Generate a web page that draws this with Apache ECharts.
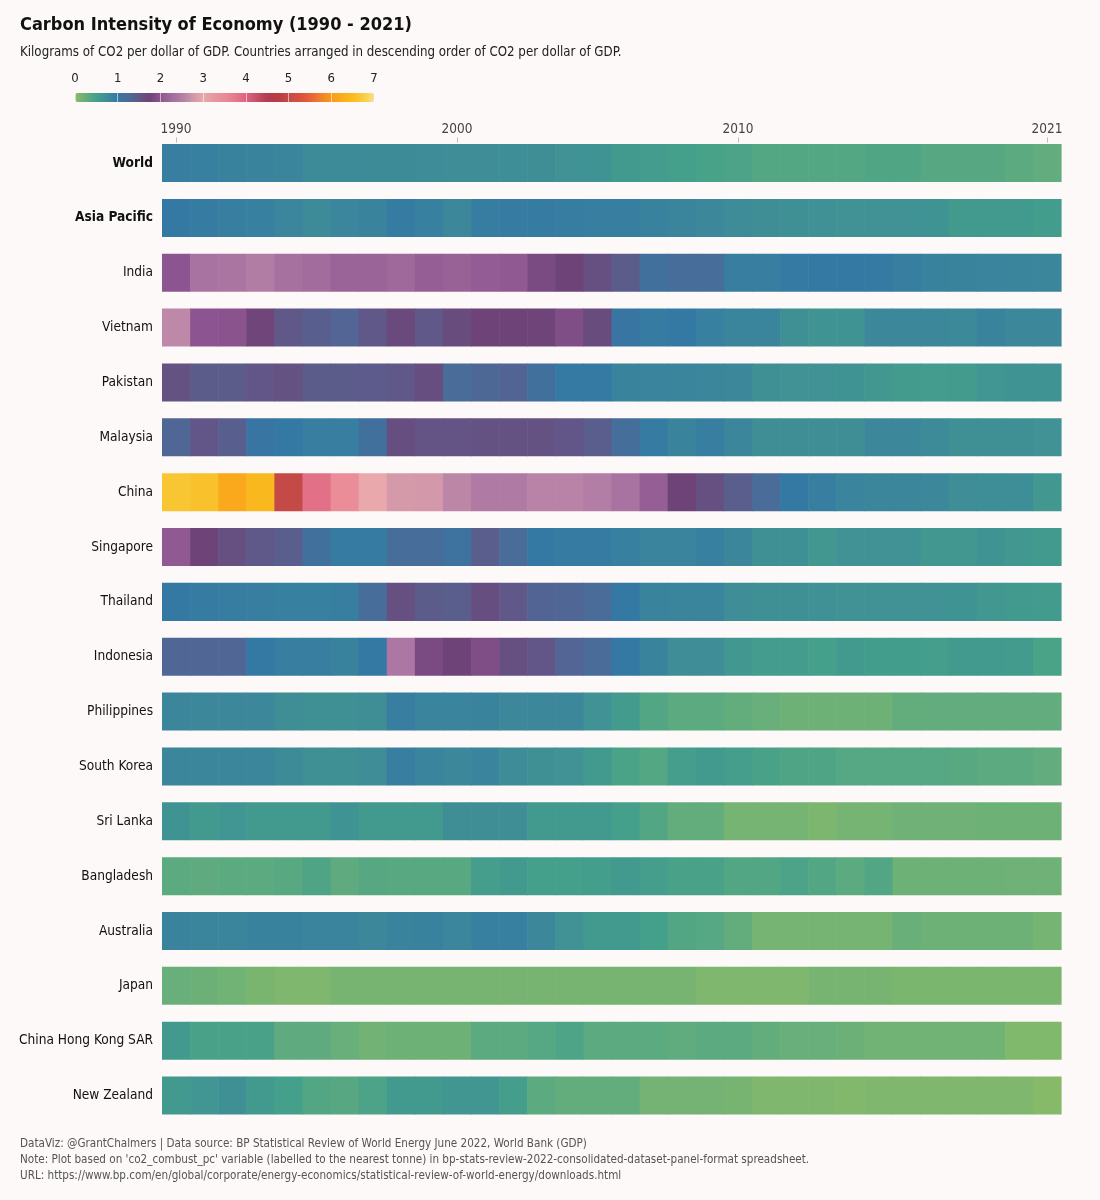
<!DOCTYPE html>
<html lang="en">
<head>
    <meta charset="UTF-8">
    <title>Carbon Intensity of Economy</title>
    <style>
        html, body { margin: 0; padding: 0; background: #fcf9f8; }
        #main { width: 1100px; height: 1200px; }
    </style>
</head>
<body>
    <div id="main"></div>
    <script src="https://cdn.jsdelivr.net/npm/echarts@6/dist/echarts.min.js"></script>
    <script>
        // years on the x axis
        const years = ['1990', '1991', '1992', '1993', '1994', '1995', '1996', '1997', '1998', '1999',
            '2000', '2001', '2002', '2003', '2004', '2005', '2006', '2007', '2008', '2009',
            '2010', '2011', '2012', '2013', '2014', '2015', '2016', '2017', '2018', '2019',
            '2020', '2021'];
        const yearTicks = ['1990', '2000', '2010', '2021'];

        const countries = ['World', 'Asia Pacific', 'India', 'Vietnam', 'Pakistan', 'Malaysia', 'China',
            'Singapore', 'Thailand', 'Indonesia', 'Philippines', 'South Korea', 'Sri Lanka',
            'Bangladesh', 'Australia', 'Japan', 'China Hong Kong SAR', 'New Zealand'];
        const boldRows = ['World', 'Asia Pacific'];

        // kg CO2 per dollar of GDP
        const world = [0.93, 0.9, 0.88, 0.86, 0.84, 0.78, 0.77, 0.76, 0.76, 0.75, 0.74, 0.74, 0.73, 0.72, 0.67, 0.66, 0.57, 0.55, 0.5, 0.47, 0.44, 0.38, 0.38, 0.38, 0.38, 0.41, 0.41, 0.36, 0.36, 0.36, 0.33, 0.28];
        const asiaPacific = [1.0, 0.95, 0.93, 0.9, 0.83, 0.77, 0.83, 0.86, 0.95, 0.9, 0.8, 0.94, 0.95, 0.95, 0.94, 0.93, 0.92, 0.88, 0.84, 0.8, 0.75, 0.72, 0.7, 0.69, 0.68, 0.68, 0.67, 0.66, 0.58, 0.57, 0.57, 0.54];
        const india = [2.0, 2.35, 2.38, 2.48, 2.32, 2.25, 2.17, 2.17, 2.22, 2.1, 2.15, 2.08, 2.05, 1.85, 1.75, 1.6, 1.45, 1.15, 1.2, 1.2, 0.93, 0.92, 0.98, 0.99, 0.99, 0.97, 0.92, 0.87, 0.86, 0.85, 0.84, 0.82];
        const vietnam = [2.6, 2.0, 1.98, 1.77, 1.5, 1.4, 1.32, 1.5, 1.68, 1.5, 1.65, 1.75, 1.75, 1.76, 1.9, 1.65, 1.05, 0.95, 1.0, 0.9, 0.84, 0.84, 0.7, 0.66, 0.66, 0.8, 0.8, 0.8, 0.79, 0.86, 0.8, 0.8];
        const pakistan = [1.58, 1.45, 1.45, 1.52, 1.58, 1.45, 1.45, 1.46, 1.5, 1.62, 1.22, 1.28, 1.33, 1.15, 0.98, 0.98, 0.86, 0.85, 0.84, 0.82, 0.8, 0.7, 0.68, 0.67, 0.66, 0.6, 0.56, 0.55, 0.56, 0.64, 0.66, 0.66];
        const malaysia = [1.3, 1.52, 1.4, 1.05, 1.0, 0.93, 0.93, 1.15, 1.62, 1.55, 1.55, 1.58, 1.58, 1.58, 1.52, 1.42, 1.18, 0.95, 0.86, 0.93, 0.82, 0.72, 0.72, 0.72, 0.72, 0.8, 0.8, 0.78, 0.7, 0.7, 0.7, 0.68];
        const china = [6.65, 6.6, 6.2, 6.45, 5.0, 3.85, 3.45, 3.0, 2.8, 2.78, 2.58, 2.45, 2.45, 2.55, 2.55, 2.5, 2.35, 2.1, 1.75, 1.6, 1.42, 1.22, 1.0, 0.93, 0.85, 0.82, 0.82, 0.8, 0.74, 0.73, 0.73, 0.6];
        const singapore = [2.05, 1.75, 1.6, 1.48, 1.42, 1.15, 0.95, 0.95, 1.2, 1.2, 1.1, 1.42, 1.22, 1.0, 0.95, 0.95, 0.9, 0.85, 0.85, 0.9, 0.82, 0.7, 0.7, 0.6, 0.68, 0.68, 0.68, 0.6, 0.6, 0.66, 0.6, 0.58];
        const thailand = [1.0, 0.96, 0.94, 0.92, 0.9, 0.9, 0.92, 1.2, 1.6, 1.45, 1.42, 1.62, 1.5, 1.33, 1.3, 1.22, 1.0, 0.86, 0.84, 0.84, 0.74, 0.7, 0.7, 0.69, 0.68, 0.68, 0.68, 0.68, 0.66, 0.6, 0.58, 0.56];
        const indonesia = [1.3, 1.3, 1.3, 1.0, 0.93, 0.93, 0.88, 1.0, 2.4, 1.85, 1.75, 1.9, 1.6, 1.52, 1.32, 1.22, 1.0, 0.86, 0.74, 0.74, 0.6, 0.55, 0.55, 0.5, 0.57, 0.54, 0.54, 0.52, 0.58, 0.58, 0.56, 0.45];
        const philippines = [0.82, 0.8, 0.8, 0.8, 0.72, 0.7, 0.7, 0.72, 0.93, 0.85, 0.85, 0.86, 0.8, 0.8, 0.8, 0.68, 0.56, 0.4, 0.32, 0.32, 0.27, 0.24, 0.2, 0.2, 0.2, 0.2, 0.27, 0.28, 0.28, 0.28, 0.28, 0.28];
        const southKorea = [0.82, 0.82, 0.82, 0.82, 0.76, 0.7, 0.7, 0.74, 0.93, 0.85, 0.8, 0.85, 0.75, 0.7, 0.68, 0.58, 0.45, 0.38, 0.52, 0.58, 0.52, 0.46, 0.42, 0.42, 0.37, 0.37, 0.37, 0.37, 0.35, 0.32, 0.32, 0.28];
        const sriLanka = [0.66, 0.58, 0.64, 0.58, 0.58, 0.58, 0.66, 0.58, 0.58, 0.58, 0.72, 0.72, 0.72, 0.58, 0.58, 0.58, 0.5, 0.4, 0.27, 0.27, 0.15, 0.15, 0.15, 0.1, 0.15, 0.15, 0.19, 0.19, 0.19, 0.2, 0.2, 0.2];
        const bangladesh = [0.32, 0.3, 0.32, 0.32, 0.35, 0.42, 0.3, 0.36, 0.35, 0.35, 0.35, 0.52, 0.57, 0.5, 0.5, 0.53, 0.57, 0.52, 0.46, 0.46, 0.4, 0.4, 0.44, 0.4, 0.32, 0.4, 0.2, 0.2, 0.2, 0.2, 0.19, 0.19];
        const australia = [0.86, 0.84, 0.84, 0.88, 0.88, 0.85, 0.85, 0.8, 0.86, 0.88, 0.83, 0.9, 0.9, 0.8, 0.68, 0.58, 0.58, 0.5, 0.4, 0.37, 0.27, 0.15, 0.15, 0.15, 0.15, 0.15, 0.23, 0.2, 0.2, 0.2, 0.2, 0.15];
        const japan = [0.24, 0.21, 0.18, 0.12, 0.09, 0.09, 0.14, 0.14, 0.14, 0.14, 0.14, 0.14, 0.14, 0.14, 0.14, 0.14, 0.14, 0.14, 0.14, 0.09, 0.09, 0.09, 0.09, 0.14, 0.14, 0.14, 0.11, 0.11, 0.11, 0.11, 0.11, 0.11];
        const hongKong = [0.57, 0.46, 0.46, 0.46, 0.3, 0.3, 0.24, 0.17, 0.2, 0.2, 0.2, 0.33, 0.33, 0.37, 0.43, 0.33, 0.33, 0.33, 0.29, 0.32, 0.32, 0.27, 0.24, 0.24, 0.21, 0.18, 0.18, 0.18, 0.18, 0.18, 0.08, 0.08];
        const newZealand = [0.57, 0.64, 0.7, 0.57, 0.5, 0.4, 0.36, 0.44, 0.57, 0.57, 0.62, 0.62, 0.52, 0.33, 0.27, 0.27, 0.27, 0.16, 0.16, 0.16, 0.14, 0.09, 0.09, 0.09, 0.07, 0.09, 0.09, 0.09, 0.09, 0.09, 0.09, 0.04];

        const rows = [world, asiaPacific, india, vietnam, pakistan, malaysia, china, singapore, thailand,
            indonesia, philippines, southKorea, sriLanka, bangladesh, australia, japan, hongKong, newZealand];

        // colour ramp 0 -> 7, one stop every 0.25
        const palette = ['#8cbc64', '#66ae7c', '#44a08a', '#3e8c98', '#3478a4', '#4c6a98', '#605888',
            '#6e4478', '#8c5490', '#a26c9c', '#b27ea6', '#d096aa', '#e8a8ac', '#e898a0', '#ea8a96',
            '#e47a8c', '#de6480', '#c85068', '#b03c50', '#b83c44', '#c44a48', '#d8503c', '#e6603a',
            '#f08028', '#f89c1a', '#faac1c', '#f9bc1e', '#f8cc40', '#f8e08a'];

        const font = "'Noto Sans Condensed', 'DejaVu Sans Condensed', 'Liberation Sans Narrow', Roboto, sans-serif";

        const cells = [];
        rows.forEach((row, r) => {
            row.forEach((v, c) => cells.push([c, r, v]));
        });

        const chart = echarts.init(document.getElementById('main'));

        function renderCell(params, api) {
            const p = api.coord([api.value(0), api.value(1)]);
            const s = api.size([1, 1]);
            const h = s[1] * 0.693;
            return {
                type: 'rect',
                shape: { x: p[0] - s[0] / 2, y: p[1] - h / 2, width: s[0] + 0.6, height: h },
                style: { fill: api.visual('color') }
            };
        }

        const option = {
            backgroundColor: '#fcf9f8',
            textStyle: { fontFamily: font },
            title: [
                {
                    left: 15,
                    top: 11,
                    text: 'Carbon Intensity of Economy (1990 - 2021)',
                    subtext: 'Kilograms of CO2 per dollar of GDP. Countries arranged in descending order of CO2 per dollar of GDP.',
                    itemGap: 12,
                    textStyle: { fontFamily: font, fontSize: 18, fontWeight: 'bold', color: '#111' },
                    subtextStyle: { fontFamily: font, fontSize: 13.2, color: '#222' }
                },
                {
                    left: 15,
                    top: 1131,
                    text: 'DataViz: @GrantChalmers | Data source: BP Statistical Review of World Energy June 2022, World Bank (GDP)\n' +
                        "Note: Plot based on 'co2_combust_pc' variable (labelled to the nearest tonne) in bp-stats-review-2022-consolidated-dataset-panel-format spreadsheet.\n" +
                        'URL: https://www.bp.com/en/global/corporate/energy-economics/statistical-review-of-world-energy/downloads.html',
                    textStyle: { fontFamily: font, fontSize: 11.6, fontWeight: 'normal', color: '#555', lineHeight: 16 }
                }
            ],
            visualMap: {
                type: 'continuous',
                min: 0,
                max: 7,
                dimension: 2,
                seriesIndex: 0,
                orient: 'horizontal',
                left: 75,
                top: 93,
                padding: 0,
                itemWidth: 9,
                itemHeight: 299,
                text: null,
                showLabel: false,
                calculable: false,
                hoverLink: false,
                inRange: { color: palette },
                z: 2
            },
            grid: [
                { left: 162, right: 39, top: 135.6, bottom: 77 },
                { left: 75, width: 299, top: 93, height: 9 }
            ],
            xAxis: [
                {
                    type: 'category',
                    data: years,
                    position: 'top',
                    offset: -7,
                    axisLine: { show: false },
                    axisTick: {
                        show: true,
                        alignWithLabel: true,
                        length: 5,
                        lineStyle: { color: '#bbb' },
                        interval: (i, v) => yearTicks.includes(v)
                    },
                    axisLabel: {
                        interval: (i, v) => yearTicks.includes(v),
                        margin: 6,
                        fontSize: 13.5,
                        color: '#444',
                        fontFamily: font
                    },
                    splitLine: { show: false }
                },
                {
                    type: 'value',
                    gridIndex: 1,
                    min: 0,
                    max: 7,
                    interval: 1,
                    position: 'top',
                    z: 10,
                    axisLine: { show: false },
                    axisTick: { show: false },
                    axisLabel: { margin: 8, fontSize: 13, color: '#222', fontFamily: font },
                    splitLine: { show: true, lineStyle: { color: 'rgba(255,255,255,0.55)', width: 1 } }
                }
            ],
            yAxis: [
                {
                    type: 'category',
                    data: countries,
                    inverse: true,
                    axisLine: { show: false },
                    axisTick: { show: false },
                    axisLabel: {
                        margin: 9,
                        fontSize: 13.6,
                        color: '#111',
                        fontFamily: font,
                        formatter: v => boldRows.includes(v) ? '{b|' + v + '}' : v,
                        rich: { b: { fontWeight: 'bold', fontSize: 13.6, color: '#111', fontFamily: font } }
                    },
                    splitLine: { show: false }
                },
                { type: 'value', gridIndex: 1, show: false }
            ],
            series: [
                {
                    type: 'custom',
                    renderItem: renderCell,
                    encode: { x: 0, y: 1 },
                    data: cells,
                    xAxisIndex: 0,
                    yAxisIndex: 0
                }
            ]
        };

        chart.setOption(option);
    </script>
</body>
</html>
